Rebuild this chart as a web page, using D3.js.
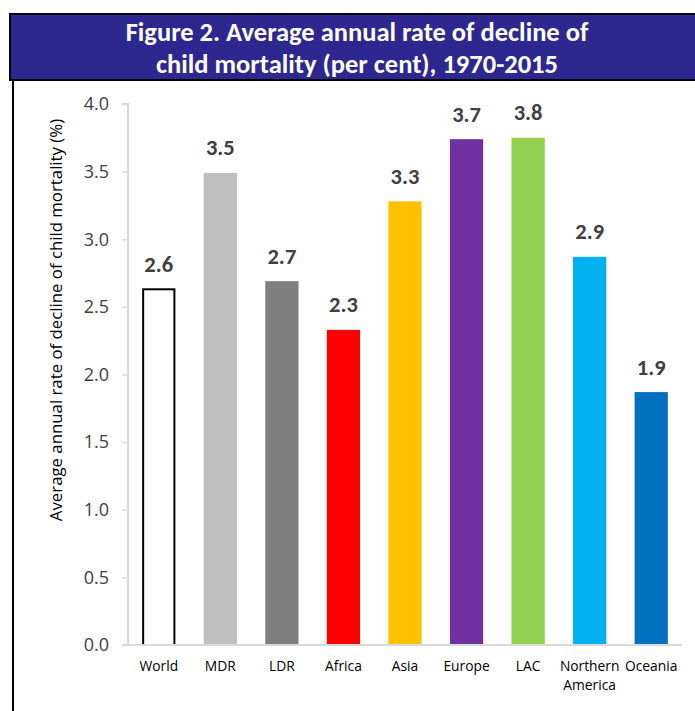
<!DOCTYPE html>
<html><head><meta charset="utf-8">
<script src="https://cdn.jsdelivr.net/npm/d3@7"></script>
<style>body{margin:0;background:#fff}svg{display:block}</style>
</head><body>
<svg id="c" width="695" height="711"></svg>
<script>
const categories = ["World","MDR","LDR","Africa","Asia","Europe","LAC","Northern America","Oceania"];
const values = [2.63, 3.49, 2.69, 2.33, 3.28, 3.74, 3.75, 2.87, 1.87];
const valueLabels = ["2.6","3.5","2.7","2.3","3.3","3.7","3.8","2.9","1.9"];
const colors = ["#FFFFFF","#BFBFBF","#7F7F7F","#FF0000","#FFC000","#7030A0","#92D050","#00B0F0","#0070C0"];
const yTicks = [0,0.5,1,1.5,2,2.5,3,3.5,4];
const titleLines = ["Figure 2. Average annual rate of decline of","child mortality (per cent), 1970-2015"];
const yLabel = "Average annual rate of decline of child mortality (%)";

const svg = d3.select("#c");
const fontT = "Carlito, Calibri, Lato, sans-serif";
const font2 = "'Open Sans', sans-serif";

// title box
svg.append("rect").attr("x",10).attr("y",14).attr("width",700).attr("height",66)
  .attr("fill","#2E2790").attr("stroke","#000").attr("stroke-width",2);
svg.append("line").attr("x1",13).attr("x2",13).attr("y1",80).attr("y2",711).attr("stroke","#000").attr("stroke-width",2);
svg.selectAll("text.title").data(titleLines).join("text").attr("class","title")
  .attr("x",357).attr("y",(d,i)=>41+i*32).attr("text-anchor","middle")
  .attr("fill","#fff").attr("font-family",fontT).attr("font-weight","bold").attr("font-size",26.5).text(d=>d);

const x = d3.scaleBand().domain(categories).range([128,682]).paddingInner(0.46).paddingOuter(0.23);
const y = d3.scaleLinear().domain([0,4]).range([645,104]);

// y axis
const ya = svg.append("g").attr("transform","translate(128,0)")
  .call(d3.axisLeft(y).tickValues(yTicks).tickFormat(d3.format(".1f")).tickSize(6).tickPadding(13));
ya.select(".domain").attr("stroke","#D9D9D9").attr("stroke-width",2).attr("d","M-6,104H0V645H-6");
ya.selectAll(".tick line").attr("stroke","#D9D9D9").attr("stroke-width",1.5);
ya.selectAll(".tick text").attr("fill","#404040").attr("font-family",font2).attr("font-size",18);

// bars
svg.selectAll("rect.bar").data(categories).join("rect").attr("class","bar")
  .attr("x",(d,i)=>x(d)+(i===0?1:0)).attr("width",(d,i)=>x.bandwidth()-(i===0?2:0))
  .attr("y",(d,i)=>y(values[i])).attr("height",(d,i)=>y(0)-y(values[i]))
  .attr("fill",(d,i)=>colors[i]).attr("stroke",(d,i)=>i===0?"#000":"none").attr("stroke-width",2);

// x axis line
svg.append("line").attr("x1",122).attr("x2",682).attr("y1",645).attr("y2",645).attr("stroke","#D9D9D9").attr("stroke-width",2);

// value labels
svg.selectAll("text.val").data(categories).join("text").attr("class","val")
  .attr("x",d=>x(d)+x.bandwidth()/2).attr("y",(d,i)=>y(values[i])-17.5)
  .attr("text-anchor","middle").attr("fill","#404040").attr("font-family",fontT)
  .attr("font-weight","bold").attr("font-size",22.5).text((d,i)=>valueLabels[i]);

// category labels
const cl = svg.selectAll("text.cat").data(categories).join("text").attr("class","cat")
  .attr("x",d=>x(d)+x.bandwidth()/2).attr("y",671).attr("text-anchor","middle")
  .attr("fill","#000").attr("font-family",font2).attr("font-size",13.8);
cl.each(function(d){
  const parts = d==="Northern America" ? ["Northern","America"] : [d];
  d3.select(this).selectAll("tspan").data(parts).join("tspan")
    .attr("x",x(d)+x.bandwidth()/2).attr("dy",(p,i)=>i===0?0:19).text(p=>p);
});

// y label
svg.append("text").attr("transform","translate(62,320) rotate(-90)").attr("text-anchor","middle")
  .attr("fill","#000").attr("font-family",font2).attr("font-size",16.8).text(yLabel);
</script>
</body></html>
